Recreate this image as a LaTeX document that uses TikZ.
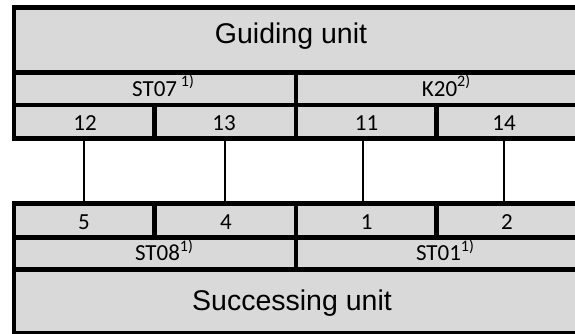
\documentclass[tikz,border=0pt]{standalone}
\usepackage{fontspec}
\setmainfont{Liberation Sans}
\newfontfamily\calib{Carlito}
\definecolor{cellgray}{HTML}{D9D9D9}
\newcommand\mysup[1]{\raisebox{9.5pt}{\fontsize{16}{19}\selectfont #1}}
\begin{document}
\begin{tikzpicture}[x=1pt,y=-1pt,
  cell/.style={draw=black, fill=cellgray, line width=4.5pt, rectangle, inner sep=0pt, outer sep=0pt},
  unitlbl/.style={anchor=base, inner sep=0pt, font=\fontsize{28.5}{34}\selectfont},
  numlbl/.style={anchor=base, inner sep=0pt, font=\calib\fontsize{23}{27}\selectfont},
  wire/.style={draw=black, line width=2pt}]
\useasboundingbox (0,0) rectangle (575,334);
\clip (0,0) rectangle (575,334);
% top block
\node[cell, minimum width=564pt, minimum height=65pt] (guide) at (296,40) {};
\node[cell, minimum width=282pt, minimum height=32.5pt] (st07) at (155,88.75) {};
\node[cell, minimum width=282pt, minimum height=32.5pt] (k20) at (437,88.75) {};
\node[cell, minimum width=140.5pt, minimum height=33.5pt] (c12) at (84.25,121.75) {};
\node[cell, minimum width=141.5pt, minimum height=33.5pt] (c13) at (225.25,121.75) {};
\node[cell, minimum width=140.5pt, minimum height=33.5pt] (c11) at (366.25,121.75) {};
\node[cell, minimum width=141.5pt, minimum height=33.5pt] (c14) at (507.25,121.75) {};
% bottom block
\node[cell, minimum width=140.5pt, minimum height=34pt] (c5) at (84.25,220.5) {};
\node[cell, minimum width=141.5pt, minimum height=34pt] (c4) at (225.25,220.5) {};
\node[cell, minimum width=140.5pt, minimum height=34pt] (c1) at (366.25,220.5) {};
\node[cell, minimum width=141.5pt, minimum height=34pt] (c2) at (507.25,220.5) {};
\node[cell, minimum width=282pt, minimum height=32pt] (st08) at (155,253.5) {};
\node[cell, minimum width=282pt, minimum height=32pt] (st01) at (437,253.5) {};
\node[cell, minimum width=564pt, minimum height=63.5pt] (succ) at (296,301.25) {};
% connectors
\draw[wire] (c12.south) -- (c5.north);
\draw[wire] (c13.south) -- (c4.north);
\draw[wire] ([xshift=-3pt]c11.south) -- ([xshift=-3pt]c1.north);
\draw[wire] ([xshift=-3pt]c14.south) -- ([xshift=-3pt]c2.north);
% labels
\node[unitlbl] (tguide) at (291,44) {Guiding unit};
\node[unitlbl] (tsucc) at (292,310) {Successing unit};
\node[numlbl] (tst07) at (163,96.5) {ST07\,\mysup{1)}};
\node[numlbl] (tk20) at (446,96.5) {K20\mysup{2)}};
\node[numlbl] (t12) at (85,130.7) {12};
\node[numlbl] (t13) at (224,130.7) {13};
\node[numlbl] (t11) at (366.5,130.7) {11};
\node[numlbl] (t14) at (504,130.7) {14};
\node[numlbl] (t5) at (84,229.3) {5};
\node[numlbl] (t4) at (226,229.3) {4};
\node[numlbl] (t1) at (366.7,229.3) {1};
\node[numlbl] (t2) at (507,229.3) {2};
\node[numlbl] (tst08) at (164,260.7) {ST08\mysup{1)}};
\node[numlbl] (tst01) at (445,260.7) {ST01\mysup{1)}};
\end{tikzpicture}
\end{document}
